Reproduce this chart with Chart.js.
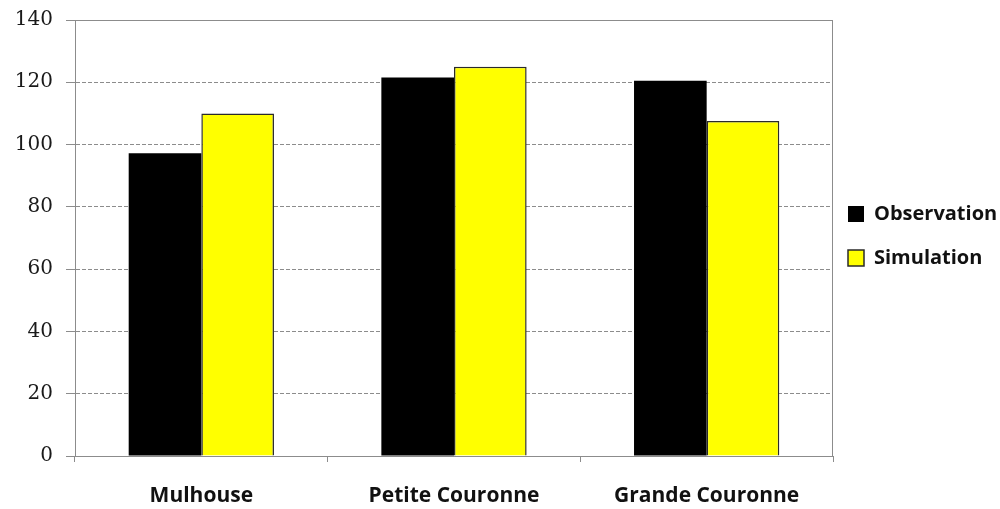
<!DOCTYPE html>
<html>
<head>
<meta charset="utf-8">
<script src="https://cdn.jsdelivr.net/npm/chart.js@4/dist/chart.umd.min.js"></script>
<style>
  html, body { margin: 0; padding: 0; background: #fff; }
  #wrap { width: 1000px; height: 509px; position: relative; }
</style>
</head>
<body>
<div id="wrap"><canvas id="chart"></canvas></div>
<script>
const categories = ['Mulhouse', 'Petite Couronne', 'Grande Couronne'];
const observation = [97.2, 121.5, 120.5];
const simulation = [110, 125, 107.6];
const yTicks = [0, 20, 40, 60, 80, 100, 120, 140];

// frame around the plot area (top + right edges like the original)
const frame = {
  id: 'frame',
  beforeDatasetsDraw(chart) {
    const { ctx, chartArea: a } = chart;
    ctx.save();
    ctx.strokeStyle = '#8c8c8c';
    ctx.lineWidth = 1;
    ctx.beginPath();
    ctx.moveTo(a.left, a.top + 0.5);
    ctx.lineTo(a.right - 0.5, a.top + 0.5);
    ctx.lineTo(a.right - 0.5, a.bottom);
    ctx.stroke();
    ctx.restore();
  }
};

new Chart(document.getElementById('chart'), {
  type: 'bar',
  data: {
    labels: categories,
    datasets: [
      { label: 'Observation', data: observation, backgroundColor: '#000000', borderColor: '#000000', borderWidth: 0 },
      { label: 'Simulation', data: simulation, backgroundColor: '#ffff00', borderColor: '#2a2a2a', borderWidth: 1.5 }
    ]
  },
  options: {
    responsive: true,
    maintainAspectRatio: false,
    animation: false,
    layout: { padding: { top: 10, right: 0, bottom: 0, left: 0 } },
    datasets: { bar: { categoryPercentage: 0.575, barPercentage: 1 } },
    plugins: {
      tooltip: { enabled: false },
      legend: {
        position: 'right',
        align: 'start',
        maxWidth: 167,
        title: { display: true, text: ' ', font: { size: 10, lineHeight: 1 }, padding: { top: 169, bottom: 0 } },
        labels: {
          boxWidth: 16,
          boxHeight: 16,
          padding: 15,
          color: '#111',
          font: { family: '"Open Sans"', size: 20, weight: 'bold', lineHeight: 29 / 20 },
          generateLabels(chart) {
            return Chart.defaults.plugins.legend.labels.generateLabels(chart)
              .map(l => ({ ...l, text: [l.text] }));
          }
        }
      }
    },
    scales: {
      x: {
        afterFit(s) { s.height = 53; },
        grid: { display: true, drawOnChartArea: false, offset: true, tickLength: 6, color: '#8c8c8c' },
        border: { color: '#8c8c8c' },
        ticks: { padding: 21, color: '#111', font: { family: '"Open Sans"', size: 21, weight: 'bold' } }
      },
      y: {
        min: 0,
        max: 140,
        afterBuildTicks(s) { s.ticks = yTicks.map(v => ({ value: v })); },
        afterFit(s) { s.width = 75; s.paddingTop = 20; s.paddingBottom = 0; },
        grid: { color: '#8c8c8c', tickLength: 9, lineWidth: 1 },
        border: {
          color: '#8c8c8c',
          dash: c => (c.tick && (c.tick.value === 140 || c.tick.value === 0)) ? [] : [4, 2]
        },
        ticks: { padding: 13, color: '#1a1a1a', font: { family: '"DejaVu Serif"', size: 20 } }
      }
    }
  },
  plugins: [frame]
});
</script>
</body>
</html>
